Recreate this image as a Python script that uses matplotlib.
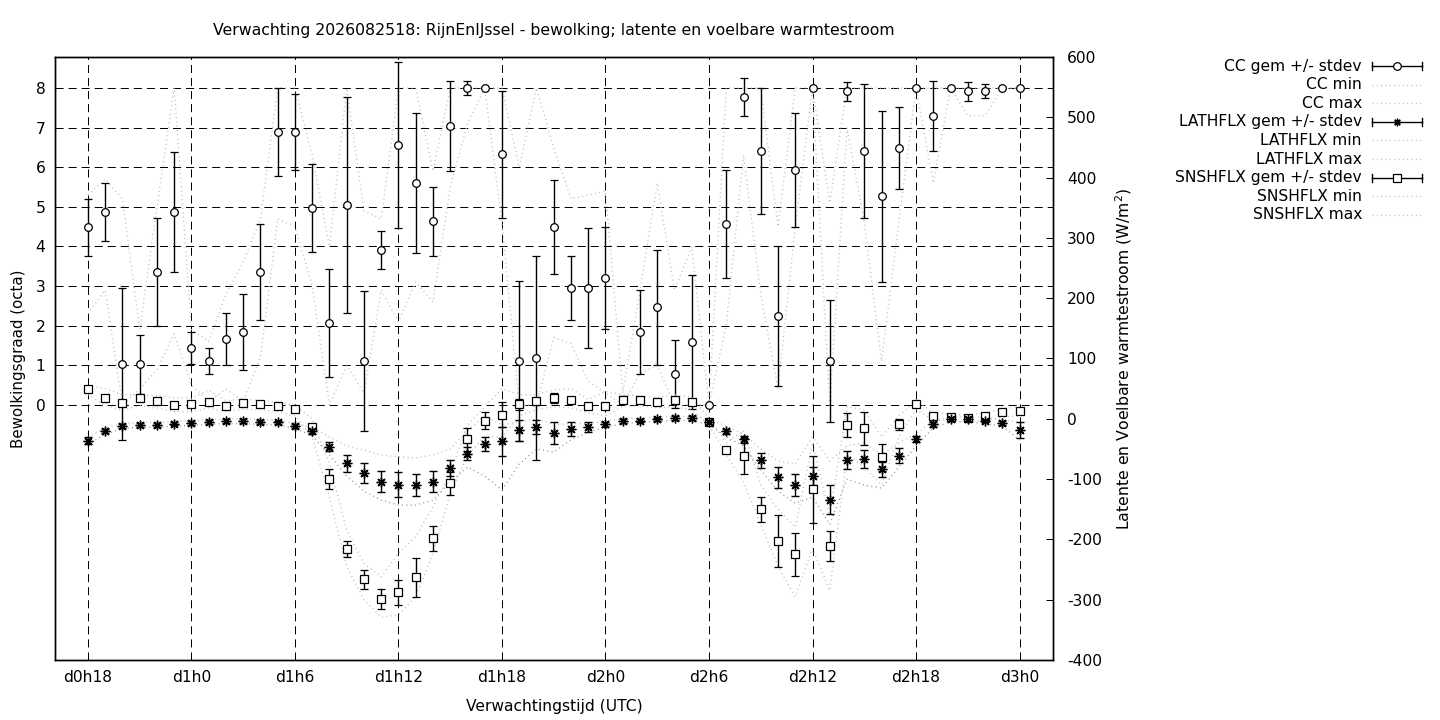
import numpy as np
import matplotlib
matplotlib.use('Agg')
from matplotlib import pyplot as plt
from matplotlib.lines import Line2D

plt.rcParams['font.family'] = ['DejaVu Sans']
plt.rcParams['font.size'] = 11.2
plt.rcParams['lines.scale_dashes'] = False
plt.rcParams['axes.unicode_minus'] = False

nan = np.nan

# uren vanaf d0h0, elk uur van d0h18 t/m d3h0
uren = list(range(18, 73))
tick_uren = [18, 24, 30, 36, 42, 48, 54, 60, 66, 72]
tick_labels = ['d0h18', 'd1h0', 'd1h6', 'd1h12', 'd1h18', 'd2h0', 'd2h6', 'd2h12', 'd2h18', 'd3h0']

# bewolking (octa)
cc_gem = [4.49, 4.87, 1.03, 1.03, 3.36, 4.87, 1.44, 1.11, 1.67, 1.84, 3.36, 6.89, 6.89, 4.97,
          2.07, 5.05, 1.11, 3.91, 6.56, 5.60, 4.64, 7.04, 8.00, 8.00, 6.33, 1.11, 1.19, 4.49,
          2.95, 2.95, 3.20, nan, 1.84, 2.47, 0.78, 1.59, 0.00, 4.57, 7.77, 6.41, 2.25, 5.93,
          8.00, 1.11, 7.92, 6.41, 5.27, 6.49, 8.00, 7.29, 8.00, 7.92, 7.92, 8.00, 8.00]
cc_sd = [0.72, 0.72, 1.92, 0.74, 1.36, 1.52, 0.40, 0.33, 0.65, 0.96, 1.22, 1.11, 0.96, 1.12,
         1.36, 2.72, 1.77, 0.47, 2.10, 1.77, 0.87, 1.13, 0.17, 0.00, 1.60, 2.02, 2.57, 1.18,
         0.81, 1.52, 1.29, nan, 1.05, 1.45, 0.86, 1.68, 0.00, 1.36, 0.47, 1.60, 1.77, 1.43,
         0.00, 1.53, 0.24, 1.69, 2.16, 1.03, 0.00, 0.88, 0.00, 0.24, 0.17, 0.00, 0.00]
cc_min = [2.3, 2.9, 0.0, 0.4, 0.9, 1.8, 0.5, 0.1, 0.4, 0.1, 1.2, 4.7, 4.5, 3.0,
          0.0, 1.0, 0.3, 2.9, 2.1, 3.1, 2.6, 5.5, 7.1, 8.0, 4.6, 0.0, 0.0, 1.7,
          1.55, 0.6, 0.3, 0.0, 0.8, 1.0, 0.0, 0.0, 0.0, 2.0, 6.3, 2.8, 0.4, 4.5,
          8.0, 0.0, 7.0, 4.6, 1.1, 4.6, 8.0, 5.6, 8.0, 7.3, 7.3, 8.0, 8.0]
cc_max = [5.3, 5.7, 5.2, 1.9, 5.0, 8.0, 1.9, 1.6, 2.8, 3.6, 4.7, 8.0, 8.0, 6.3,
          4.0, 8.0, 4.9, 4.7, 8.0, 8.0, 5.9, 8.0, 8.0, 8.0, 8.0, 6.0, 8.0, 6.5,
          5.2, 5.3, 5.4, 0.3, 2.9, 5.6, 2.9, 4.0, 0.0, 8.0, 8.0, 8.0, 4.5, 8.0,
          8.0, 5.1, 8.0, 8.0, 8.0, 8.0, 8.0, 8.0, 8.0, 8.0, 8.0, 8.0, 8.0]

# latente warmtestroom (W/m2)
lat_gem = [-36, -20, -12, -10, -10, -8, -7, -5, -4, -4, -5, -6, -12, -20,
           -46, -74, -90, -104, -109, -110, -104, -82, -58, -42, -37, -19, -14, -24,
           -17, -14, -9, -4, -3, -1, 1, 1, -5, -21, -34, -69, -97, -110,
           -95, -134, -69, -67, -84, -61, -34, -9, -1, -1, -3, -7, -19]
lat_sd = [5, 3, 3, 3, 3, 3, 3, 3, 3, 3, 3, 3, 3, 5,
          8, 14, 17, 18, 21, 18, 18, 13, 11, 12, 24, 17, 12, 18,
          11, 8, 4, 3, 3, 3, 3, 3, 3, 4, 6, 12, 17, 18,
          15, 24, 15, 15, 12, 12, 5, 4, 3, 3, 3, 4, 13]
lat_min = [-42, -26, -16, -14, -14, -12, -11, -9, -8, -8, -9, -10, -16, -28,
           -60, -95, -120, -135, -143, -143, -135, -105, -80, -95, -118, -75, -50, -55,
           -35, -22, -14, -8, -6, -4, -3, -3, -10, -30, -45, -85, -120, -140,
           -130, -175, -100, -110, -115, -80, -45, -15, -5, -5, -8, -12, -35]
lat_max = [-30, -15, -8, -6, -6, -4, -3, -1, 0, 0, -1, -2, -8, -14,
           -30, -45, -52, -60, -63, -65, -60, -50, -20, 5, -10, -5, 0, -10,
           -8, -8, -4, 0, 1, 3, 4, 4, 0, -12, -25, -50, -70, -75,
           -30, -70, -45, -40, -60, -40, -25, -3, 3, 3, 2, -2, -5]

# voelbare warmtestroom (W/m2)
sns_gem = [49, 34, 26, 34, 30, 23, 24, 28, 21, 26, 24, 21, 16, -14,
           -100, -216, -266, -299, -288, -263, -198, -107, -34, -3, 7, 24, 29, 34,
           32, 22, 21, 31, 31, 28, 32, 28, -6, -51, -62, -150, -203, -225,
           -117, -211, -11, -16, -64, -9, 24, 4, 3, 1, 4, 11, 13]
sns_sd = [3, 4, 3, 3, 3, 5, 5, 3, 3, 3, 3, 3, 3, 5,
          17, 14, 16, 16, 20, 32, 21, 19, 19, 14, 21, 9, 6, 8,
          4, 3, 4, 6, 3, 3, 3, 3, 3, 4, 30, 21, 43, 36,
          55, 25, 20, 28, 22, 9, 3, 3, 3, 3, 3, 3, 5]
sns_min = [40, 22, 14, 22, 18, 12, 12, 18, 12, 16, 15, 12, 5, -30,
           -130, -245, -300, -329, -325, -295, -223, -124, -60, -30, -30, 5, 15, 20,
           18, 10, 5, 20, 22, 18, 20, 15, -10, -60, -105, -175, -245, -295,
           -215, -285, -60, -80, -110, -30, 15, -2, -3, -5, -3, 3, 5]
sns_max = [55, 50, 40, 40, 38, 35, 34, 48, 30, 33, 30, 28, 22, 0,
           -75, -185, -240, -262, -223, -195, -146, -90, -10, 20, 50, 40, 40, 48,
           50, 32, 45, 40, 38, 35, 40, 36, 0, -40, -20, -110, -150, -180,
           -40, -160, 20, 15, -30, 5, 30, 10, 8, 6, 10, 16, 20]

grijs = '#bdbdbd'
stip = (0, (0.72, 2.4))
streep = (0, (5.8, 3.6))
px = 0.72

fig = plt.figure(figsize=(14.4, 7.2), dpi=100)
ax = fig.add_axes([55/1440, 60/720, 998/1440, 603/720])
ax2 = ax.twinx()

ax.set_xlim(16.09, 73.94)
ax.set_ylim(-6.435, 8.782)
ax2.set_ylim(-400, 600)

ax.set_xticks(tick_uren)
ax.set_xticklabels(tick_labels)
ax.set_yticks(range(0, 9))
ax2.set_yticks(range(-400, 601, 100))
ax.grid(True, color='black', lw=px, linestyle=streep)
ax.tick_params(axis='y', direction='in', length=5, width=px, right=False, pad=7)
ax.tick_params(axis='x', direction='in', length=5, width=px, top=False, pad=7)
ax2.tick_params(direction='in', length=5, width=px, left=False, pad=10)
for a in (ax, ax2):
    for s in a.spines.values():
        s.set_linewidth(1.0)
        s.set_color('black')

# bewolking
ax.errorbar(uren, cc_gem, yerr=cc_sd, fmt='o', color='black', mfc='white', ms=5.5,
            mew=0.9, elinewidth=1.0, capsize=2.8, capthick=1.0, zorder=3)
ax.plot(uren, cc_min, color=grijs, lw=1.0, ls=stip, zorder=2)
ax.plot(uren, cc_max, color=grijs, lw=1.0, ls=stip, zorder=2)

# warmtestromen
ax2.errorbar(uren, lat_gem, yerr=lat_sd, fmt='none', ecolor='black', elinewidth=1.0,
             capsize=2.8, capthick=1.0, zorder=3)
ax2.plot(uren, lat_gem, ls='none', marker=(8, 2, 0), color='black', ms=7, mew=1.0, zorder=4)
ax2.plot(uren, lat_min, color='#959595', lw=1.0, ls=stip, zorder=2)
ax2.plot(uren, lat_max, color=grijs, lw=1.0, ls=stip, zorder=2)

ax2.errorbar(uren, sns_gem, yerr=sns_sd, fmt='s', color='black', mfc='white', ms=5.3,
             mew=0.9, elinewidth=1.0, capsize=2.8, capthick=1.0, zorder=3)
ax2.plot(uren, sns_min, color=grijs, lw=1.0, ls=stip, zorder=2)
ax2.plot(uren, sns_max, color=grijs, lw=1.0, ls=stip, zorder=2)

ax.set_title('Verwachting 2026082518: RijnEnIJssel - bewolking; latente en voelbare warmtestroom',
             fontsize=11.3, pad=16)
ax.set_xlabel('Verwachtingstijd (UTC)', labelpad=10)
ax.set_ylabel('Bewolkingsgraad (octa)', fontsize=10.8, labelpad=7)
ax2.set_ylabel('Latente en Voelbare warmtestroom (W/m$^2$)', fontsize=11.3, labelpad=8)

# legenda rechts buiten de grafiek
legenda = [('CC gem +/- stdev', 'o'), ('CC min', None), ('CC max', None),
           ('LATHFLX gem +/- stdev', (8, 2, 0)), ('LATHFLX min', None), ('LATHFLX max', None),
           ('SNSHFLX gem +/- stdev', 's'), ('SNSHFLX min', None), ('SNSHFLX max', None)]
for i, (tekst, marker) in enumerate(legenda):
    y = 1 - (66 + 18.6 * i) / 720
    fig.text(1362/1440, y, tekst, ha='right', va='center')
    x0, x1 = 1372/1440, 1422/1440
    if marker is None:
        fig.add_artist(Line2D([x0, x1], [y, y], color=grijs, lw=1.0, ls=stip))
    else:
        dy = 4/720
        fig.add_artist(Line2D([x0, x1], [y, y], color='black', lw=1.0))
        fig.add_artist(Line2D([x0, x0], [y - dy, y + dy], color='black', lw=1.0))
        fig.add_artist(Line2D([x1, x1], [y - dy, y + dy], color='black', lw=1.0))
        fig.add_artist(Line2D([(x0 + x1) / 2], [y], marker=marker, color='black',
                              mfc='white', ms=5.5, mew=0.9, ls='none'))

fig.savefig('out.png', dpi=100)
